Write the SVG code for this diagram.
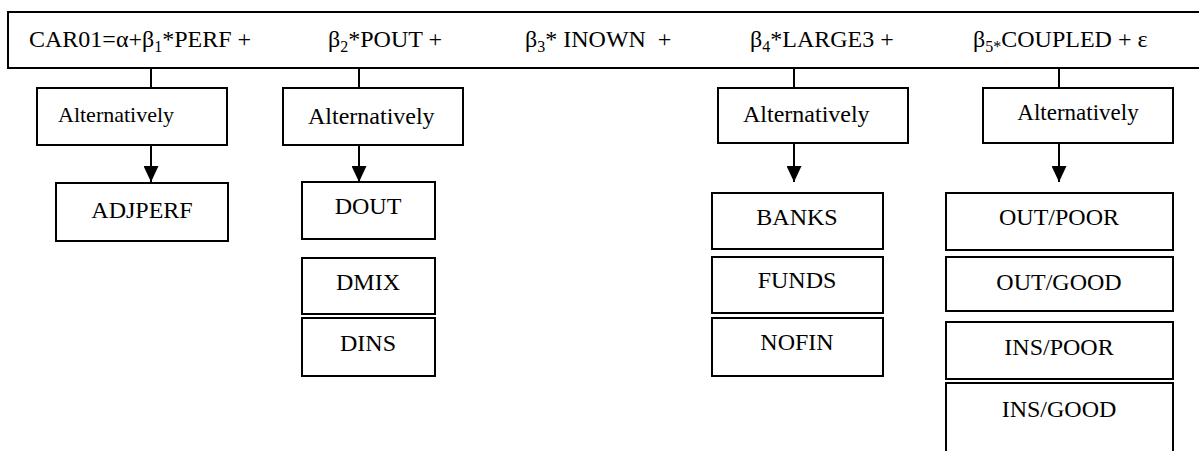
<svg xmlns="http://www.w3.org/2000/svg" width="1199" height="451" viewBox="0 0 1199 451">
<defs>
<style>
rect{fill:#fff;stroke:#000;stroke-width:2}
text{font-family:"Liberation Serif","Times New Roman",serif;fill:#000}
.t{font-size:24px}
.b{font-size:24px;text-anchor:middle}
.a1{font-size:22px}
.sub{font-size:16px}
.c line{stroke:#000;stroke-width:2}
</style>
<marker id="ah" markerWidth="16" markerHeight="15" refX="16" refY="7.5" orient="auto" markerUnits="userSpaceOnUse" viewBox="0 0 16 15">
<path d="M0,0 L16,7.5 L0,15 Z" fill="#000"/>
</marker>
</defs>
<rect x="0" y="0" width="1199" height="451" style="stroke:none"/>
<g id="equation">
<rect x="8" y="12" width="1195" height="56"/>
<text class="t" x="29" y="47">CAR01=α+β<tspan class="sub" dy="5">1</tspan><tspan dy="-5">*PERF +</tspan></text>
<text class="t" x="328" y="47">β<tspan class="sub" dy="5">2</tspan><tspan dy="-5">*POUT +</tspan></text>
<text class="t" x="525" y="47" xml:space="preserve">β<tspan class="sub" dy="5">3</tspan><tspan dy="-5">* INOWN  +</tspan></text>
<text class="t" x="750" y="47">β<tspan class="sub" dy="5">4</tspan><tspan dy="-5">*LARGE3 +</tspan></text>
<text class="t" x="973" y="47">β<tspan class="sub" dy="5">5*</tspan><tspan dy="-5">COUPLED + ε</tspan></text>
</g>
<g class="c" id="connectors">
<line x1="151" y1="68" x2="151" y2="88"/>
<line x1="359" y1="68" x2="359" y2="88"/>
<line x1="794" y1="68" x2="794" y2="88"/>
<line x1="1059" y1="68" x2="1059" y2="88"/>
<line x1="151" y1="145" x2="151" y2="182" marker-end="url(#ah)"/>
<line x1="359" y1="145" x2="359" y2="182" marker-end="url(#ah)"/>
<line x1="794" y1="143" x2="794" y2="182" marker-end="url(#ah)"/>
<line x1="1059" y1="143" x2="1059" y2="182" marker-end="url(#ah)"/>
</g>
<g id="alt1"><rect x="37" y="88" width="190" height="57"/><text class="a1" x="58" y="122">Alternatively</text></g>
<g id="alt2"><rect x="283" y="88" width="180" height="57"/><text class="t" x="308" y="124">Alternatively</text></g>
<g id="alt3"><rect x="718" y="88" width="190" height="55"/><text class="t" x="743" y="122">Alternatively</text></g>
<g id="alt4"><rect x="983" y="88" width="190" height="55"/><text class="b" x="1078" y="120" style="font-size:23px">Alternatively</text></g>
<g id="adjperf"><rect x="56" y="183" width="172" height="58"/><text class="b" x="142" y="218">ADJPERF</text></g>
<g id="dout"><rect x="302" y="182" width="133" height="57"/><text class="b" x="368" y="214">DOUT</text></g>
<g id="dmix"><rect x="302" y="258" width="133" height="56"/><text class="b" x="368" y="290">DMIX</text></g>
<g id="dins"><rect x="302" y="318" width="133" height="58"/><text class="b" x="368" y="351">DINS</text></g>
<g id="banks"><rect x="712" y="193" width="171" height="56"/><text class="b" x="797" y="225">BANKS</text></g>
<g id="funds"><rect x="712" y="257" width="171" height="56"/><text class="b" x="797" y="288">FUNDS</text></g>
<g id="nofin"><rect x="712" y="318" width="171" height="58"/><text class="b" x="797" y="350">NOFIN</text></g>
<g id="outpoor"><rect x="946" y="193" width="227" height="57"/><text class="b" x="1059" y="225">OUT/POOR</text></g>
<g id="outgood"><rect x="946" y="257" width="227" height="54"/><text class="b" x="1059" y="290">OUT/GOOD</text></g>
<g id="inspoor"><rect x="946" y="322" width="227" height="57"/><text class="b" x="1059" y="355">INS/POOR</text></g>
<g id="insgood"><rect x="946" y="383" width="227" height="80"/><text class="b" x="1059" y="417">INS/GOOD</text></g>
</svg>
